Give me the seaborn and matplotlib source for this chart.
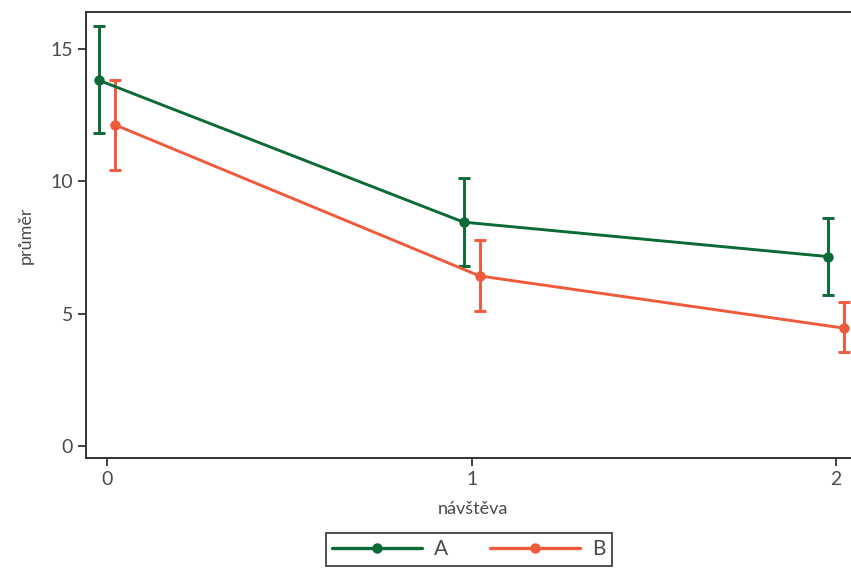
import matplotlib
matplotlib.use("Agg")
import matplotlib.pyplot as plt
import seaborn as sns
import pandas as pd
import numpy as np

visits = [0, 1, 2]
groups = ["A", "B"]
mean_A = [13.8, 8.45, 7.15]
low_A = [11.8, 6.8, 5.7]
high_A = [15.85, 10.1, 8.6]
mean_B = [12.12, 6.42, 4.45]
low_B = [10.42, 5.08, 3.55]
high_B = [13.8, 7.77, 5.42]
xticklabels = ["0", "1", "2"]
yticks = [0, 5, 10, 15]

sns.set_theme(style="ticks")
plt.rcParams['font.family'] = ['Lato', 'DejaVu Sans']

colors = {"A": "#0b6a35", "B": "#f05a3c"}
offsets = {"A": -0.022, "B": 0.022}

rows = []
for g, m, lo, hi in [("A", mean_A, low_A, high_A), ("B", mean_B, low_B, high_B)]:
    for v, mm, l, h in zip(visits, m, lo, hi):
        rows.append({"group": g, "visit": v, "x": v + offsets[g], "mean": mm, "lo": l, "hi": h})
df = pd.DataFrame(rows)

fig = plt.figure(figsize=(8.51, 5.69), dpi=100)
ax = fig.add_axes([86/851, 1-458/569, 1-86/851 + 0.01, (458-12)/569])

sns.lineplot(data=df, x="x", y="mean", hue="group", palette=colors, marker="o",
             markersize=7.5, markeredgewidth=0, linewidth=2.1, ax=ax, legend=False, zorder=3)
for g in groups:
    d = df[df.group == g]
    ax.errorbar(d["x"], d["mean"], yerr=[d["mean"] - d["lo"], d["hi"] - d["mean"]],
                fmt="none", ecolor=colors[g], elinewidth=2.1, capsize=4, capthick=2.1, zorder=2)

ax.set_xlim(-0.058, 2.041 + 0.01 * 851 / 364.5)
ax.set_ylim(-0.45, 16.38)
ax.set_xticks(visits)
ax.set_xticklabels(xticklabels)
ax.set_yticks(yticks)
ax.set_xlabel("návštěva", fontsize=13, color="#4a4a4a", labelpad=9)
ax.set_ylabel("průměr", fontsize=13, color="#4a4a4a", labelpad=12)
ax.tick_params(axis="both", labelsize=14, colors="#333333", labelcolor="#4a4a4a",
               length=6, width=1.3, direction="out")
for s in ["left", "bottom", "top"]:
    ax.spines[s].set_color("#333333")
    ax.spines[s].set_linewidth(1.4)
ax.spines["right"].set_visible(False)

from matplotlib.lines import Line2D
handles = [Line2D([0], [0], color=colors[g], marker="o", markersize=7.5, linewidth=2.4,
                  markeredgewidth=0) for g in groups]
leg = fig.legend(handles, groups, loc="upper center", bbox_to_anchor=(469/851, 1-533/569),
                 ncol=2, fontsize=15, handlelength=4.3, columnspacing=2.0, handletextpad=0.6,
                 frameon=True, fancybox=False, borderpad=0.3, borderaxespad=0)
leg.get_frame().set_edgecolor("#222222")
leg.get_frame().set_linewidth(1.4)
for t in leg.get_texts():
    t.set_color("#4a4a4a")

fig.savefig("out.png", dpi=100)
